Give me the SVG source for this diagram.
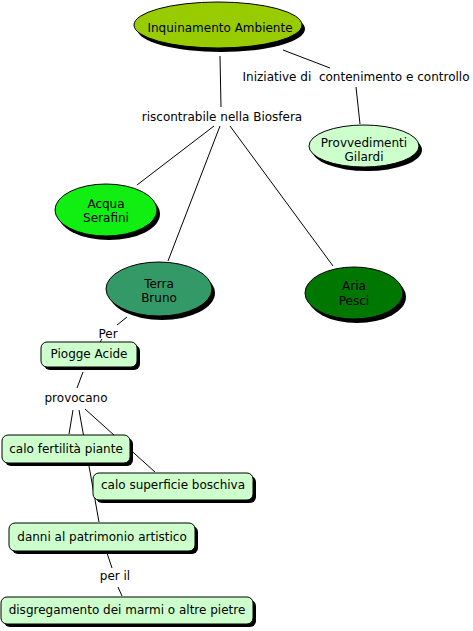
<svg xmlns="http://www.w3.org/2000/svg" width="473" height="631" viewBox="0 0 473 631">
<style>
text{font-family:"DejaVu Sans",Verdana,sans-serif;font-size:12px;fill:#000;text-anchor:middle;white-space:pre}
.c line{stroke:#000;stroke-width:1}
.sh{fill:#000}
.n{stroke:#000;stroke-width:1}
.box{fill:#ccffcc;stroke:#000;stroke-width:1}
</style>
<rect width="473" height="631" fill="#fff"/>
<g class="c" id="connectors">
<line x1="283" y1="50" x2="330" y2="68"/>
<line x1="356" y1="87" x2="360" y2="124"/>
<line x1="220" y1="56" x2="221" y2="107"/>
<line x1="214" y1="126" x2="137" y2="185"/>
<line x1="220" y1="126" x2="168" y2="261"/>
<line x1="230" y1="126" x2="333" y2="266"/>
<line x1="127" y1="317" x2="117" y2="325"/>
<line x1="102" y1="339" x2="100" y2="342"/>
<line x1="83" y1="372" x2="77" y2="388"/>
<line x1="73" y1="410" x2="69" y2="434"/>
<line x1="79" y1="410" x2="99" y2="522"/>
<line x1="85" y1="409" x2="155" y2="472"/>
<line x1="107" y1="553" x2="112" y2="568"/>
<line x1="118" y1="587" x2="122" y2="596"/>
</g>
<g id="inquinamento">
<ellipse class="sh" cx="221" cy="29" rx="84" ry="23"/>
<ellipse class="n" cx="218" cy="25" rx="84" ry="23" fill="#99cc00"/>
<text x="220" y="32">Inquinamento Ambiente</text>
</g>
<g id="lbl-iniziative"><text x="356" y="81">Iniziative di  contenimento e controllo</text></g>
<g id="provvedimenti">
<ellipse class="sh" cx="367" cy="150" rx="55" ry="21"/>
<ellipse class="n" cx="364" cy="146" rx="55" ry="21" fill="#ccffcc"/>
<text x="364" y="147">Provvedimenti</text>
<text x="364" y="161">Gilardi</text>
</g>
<g id="lbl-riscontrabile"><text x="222" y="121">riscontrabile nella Biosfera</text></g>
<g id="acqua">
<ellipse class="sh" cx="109" cy="214" rx="51" ry="26"/>
<ellipse class="n" cx="106" cy="210" rx="51" ry="26" fill="#11ee11"/>
<text x="106" y="208">Acqua</text>
<text x="106" y="222">Serafini</text>
</g>
<g id="terra">
<ellipse class="sh" cx="162" cy="293" rx="53" ry="27"/>
<ellipse class="n" cx="159" cy="289" rx="53" ry="27" fill="#339966"/>
<text x="159" y="288">Terra</text>
<text x="159" y="302">Bruno</text>
</g>
<g id="aria">
<ellipse class="sh" cx="357" cy="297" rx="49" ry="26"/>
<ellipse class="n" cx="354" cy="293" rx="49" ry="26" fill="#007700"/>
<text x="354" y="290">Aria</text>
<text x="354" y="305">Pesci</text>
</g>
<g id="lbl-per"><text x="108" y="338">Per</text></g>
<g id="piogge">
<rect class="sh" x="44" y="345" width="96" height="25" rx="6"/>
<rect class="box" x="41" y="342" width="96" height="25" rx="6"/>
<text x="89" y="358">Piogge Acide</text>
</g>
<g id="lbl-provocano"><text x="76" y="402">provocano</text></g>
<g id="fertilita">
<rect class="sh" x="5" y="438" width="128" height="28" rx="6"/>
<rect class="box" x="2" y="435" width="128" height="28" rx="6"/>
<text x="66" y="453">calo fertilità piante</text>
</g>
<g id="superficie">
<rect class="sh" x="96" y="476" width="160" height="27" rx="6"/>
<rect class="box" x="93" y="473" width="160" height="27" rx="6"/>
<text x="173" y="489">calo superficie boschiva</text>
</g>
<g id="danni">
<rect class="sh" x="12" y="526" width="186" height="28" rx="6"/>
<rect class="box" x="9" y="523" width="186" height="28" rx="6"/>
<text x="102" y="541">danni al patrimonio artistico</text>
</g>
<g id="lbl-peril"><text x="115" y="580">per il</text></g>
<g id="disgregamento">
<rect class="sh" x="4" y="600" width="252" height="27" rx="6"/>
<rect class="box" x="1" y="597" width="252" height="27" rx="6"/>
<text x="127" y="614">disgregamento dei marmi o altre pietre</text>
</g>
</svg>
